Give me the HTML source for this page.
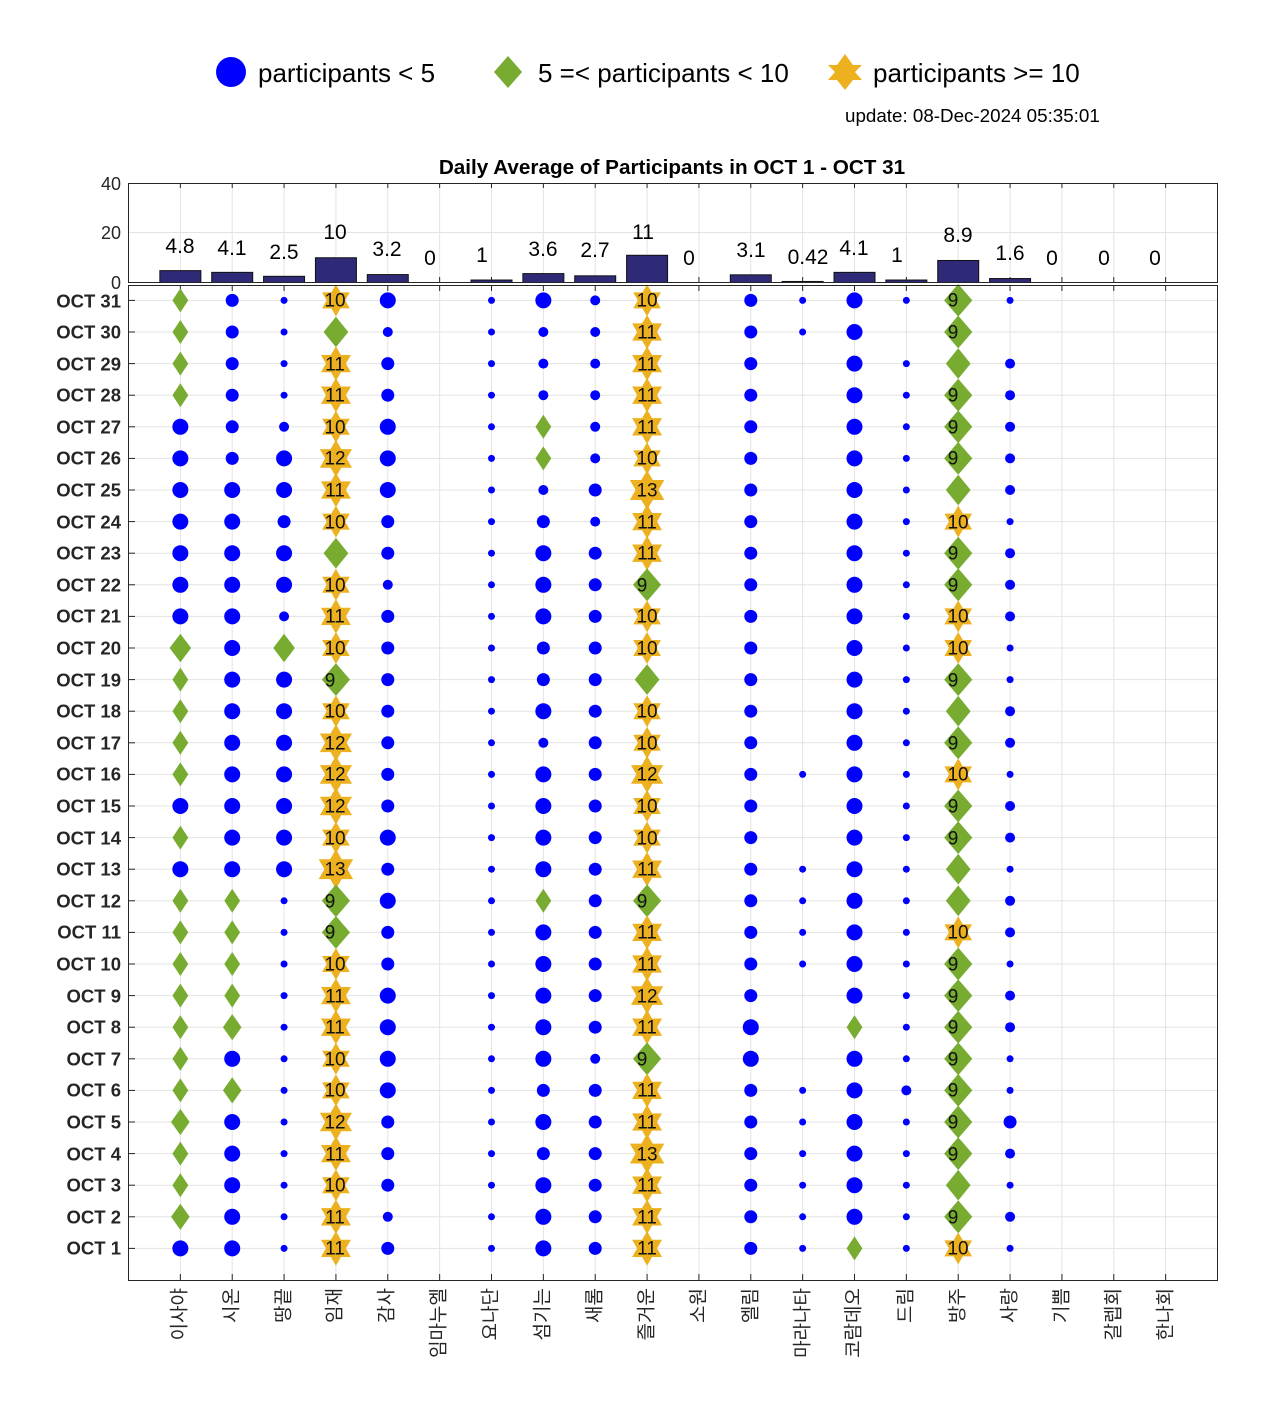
<!DOCTYPE html>
<html><head><meta charset="utf-8"><style>
html,body{margin:0;padding:0;background:#fff;}
svg{display:block;font-family:"Liberation Sans","Noto Sans CJK KR",sans-serif;}
</style></head><body>
<svg id="s" width="1280" height="1422" viewBox="0 0 1280 1422" xmlns="http://www.w3.org/2000/svg">
<rect width="1280" height="1422" fill="#fff"/>
<!-- legend -->
<circle cx="231" cy="72" r="15" fill="#0000ff"/>
<text x="258" y="82" font-size="26" fill="#000">participants &lt; 5</text>
<polygon points="508,56 522,72 508,88 494,72" fill="#77ac30"/>
<text x="538" y="82" font-size="26" fill="#000">5 =&lt; participants &lt; 10</text>
<path d="M845,54 L853,65 L862,65 L855,72 L862,80 L853,80 L845,90 L837,80 L828,80 L835,72 L828,65 L837,65 Z" fill="#edb120"/>
<text x="873" y="82" font-size="26" fill="#000">participants &gt;= 10</text>
<text x="845" y="122" font-size="18.8" fill="#000">update: 08-Dec-2024 05:35:01</text>
<text x="672" y="174" font-size="20.7" font-weight="bold" text-anchor="middle" fill="#000">Daily Average of Participants in OCT 1 - OCT 31</text>
<g id="grid"></g>
<g id="bars"></g>
<g id="m"></g>
<!-- axes frames -->
<rect x="128.5" y="183.5" width="1089" height="99" fill="none" stroke="#262626" stroke-width="1"/>
<rect x="128.5" y="285.5" width="1089" height="995" fill="none" stroke="#262626" stroke-width="1"/>
<g font-size="18" fill="#262626" text-anchor="end">
<text x="121" y="190">40</text><text x="121" y="239">20</text><text x="121" y="289">0</text>
</g>
<!-- bar labels -->
<g font-size="21" fill="#000" text-anchor="middle">
<text x="180" y="253">4.8</text><text x="232" y="255">4.1</text><text x="284" y="259">2.5</text><text x="335" y="239">10</text><text x="387" y="256">3.2</text><text x="430" y="265">0</text><text x="482" y="262">1</text><text x="543" y="256">3.6</text><text x="595" y="257">2.7</text><text x="643" y="239">11</text><text x="689" y="265">0</text><text x="751" y="257">3.1</text><text x="808" y="264">0.42</text><text x="854" y="255">4.1</text><text x="897" y="262">1</text><text x="958" y="242">8.9</text><text x="1010" y="260">1.6</text><text x="1052" y="265">0</text><text x="1104" y="265">0</text><text x="1155" y="265">0</text>
</g>
<!-- y labels -->
<g font-size="18.5" font-weight="bold" fill="#262626" text-anchor="end" dominant-baseline="central">
<text x="121" y="301">OCT 31</text><text x="121" y="332">OCT 30</text><text x="121" y="364">OCT 29</text><text x="121" y="395">OCT 28</text><text x="121" y="427">OCT 27</text><text x="121" y="458">OCT 26</text><text x="121" y="490">OCT 25</text><text x="121" y="522">OCT 24</text><text x="121" y="553">OCT 23</text><text x="121" y="585">OCT 22</text><text x="121" y="616">OCT 21</text><text x="121" y="648">OCT 20</text><text x="121" y="680">OCT 19</text><text x="121" y="711">OCT 18</text><text x="121" y="743">OCT 17</text><text x="121" y="774">OCT 16</text><text x="121" y="806">OCT 15</text><text x="121" y="838">OCT 14</text><text x="121" y="869">OCT 13</text><text x="121" y="901">OCT 12</text><text x="121" y="932">OCT 11</text><text x="121" y="964">OCT 10</text><text x="121" y="996">OCT 9</text><text x="121" y="1027">OCT 8</text><text x="121" y="1059">OCT 7</text><text x="121" y="1090">OCT 6</text><text x="121" y="1122">OCT 5</text><text x="121" y="1154">OCT 4</text><text x="121" y="1185">OCT 3</text><text x="121" y="1217">OCT 2</text><text x="121" y="1248">OCT 1</text>
</g>
<!-- x labels -->
<g font-size="19" fill="#262626" text-anchor="end" dominant-baseline="central">
<text transform="translate(180,1288) rotate(-90)">이사야</text>
<text transform="translate(232,1288) rotate(-90)">시온</text>
<text transform="translate(284,1288) rotate(-90)">땅끝</text>
<text transform="translate(335,1288) rotate(-90)">임재</text>
<text transform="translate(387,1288) rotate(-90)">감사</text>
<text transform="translate(439,1288) rotate(-90)">임마누엘</text>
<text transform="translate(491,1288) rotate(-90)">요나단</text>
<text transform="translate(543,1288) rotate(-90)">섬기는</text>
<text transform="translate(595,1288) rotate(-90)">새롬</text>
<text transform="translate(647,1288) rotate(-90)">즐거운</text>
<text transform="translate(699,1288) rotate(-90)">소원</text>
<text transform="translate(751,1288) rotate(-90)">엘림</text>
<text transform="translate(803,1288) rotate(-90)">마라나타</text>
<text transform="translate(854,1288) rotate(-90)">코람데오</text>
<text transform="translate(906,1288) rotate(-90)">드림</text>
<text transform="translate(958,1288) rotate(-90)">방주</text>
<text transform="translate(1010,1288) rotate(-90)">사랑</text>
<text transform="translate(1062,1288) rotate(-90)">기쁨</text>
<text transform="translate(1114,1288) rotate(-90)">갈렙회</text>
<text transform="translate(1166,1288) rotate(-90)">한나회</text>
</g>
<!-- marker numbers -->
<g font-size="19" fill="#111" text-anchor="middle" dominant-baseline="central">
<g transform="translate(335,1)">
<text y="300">10</text><text y="364">11</text><text y="395">11</text><text y="427">10</text><text y="458">12</text><text y="490">11</text><text y="522">10</text><text y="585">10</text><text y="616">11</text><text y="648">10</text><text x="-5" y="680">9</text><text y="711">10</text><text y="743">12</text><text y="774">12</text><text y="806">12</text><text y="838">10</text><text y="869">13</text><text x="-5" y="901">9</text><text x="-5" y="932">9</text><text y="964">10</text><text y="996">11</text><text y="1027">11</text><text y="1059">10</text><text y="1090">10</text><text y="1122">12</text><text y="1154">11</text><text y="1185">10</text><text y="1217">11</text><text y="1248">11</text>
</g>
<g transform="translate(647,1)">
<text y="300">10</text><text y="332">11</text><text y="364">11</text><text y="395">11</text><text y="427">11</text><text y="458">10</text><text y="490">13</text><text y="522">11</text><text y="553">11</text><text x="-5" y="585">9</text><text y="616">10</text><text y="648">10</text><text y="711">10</text><text y="743">10</text><text y="774">12</text><text y="806">10</text><text y="838">10</text><text y="869">11</text><text x="-5" y="901">9</text><text y="932">11</text><text y="964">11</text><text y="996">12</text><text y="1027">11</text><text x="-5" y="1059">9</text><text y="1090">11</text><text y="1122">11</text><text y="1154">13</text><text y="1185">11</text><text y="1217">11</text><text y="1248">11</text>
</g>
<g transform="translate(958,1)">
<text x="-5" y="300">9</text><text x="-5" y="332">9</text><text x="-5" y="395">9</text><text x="-5" y="427">9</text><text x="-5" y="458">9</text><text y="522">10</text><text x="-5" y="553">9</text><text x="-5" y="585">9</text><text y="616">10</text><text y="648">10</text><text x="-5" y="680">9</text><text x="-5" y="743">9</text><text y="774">10</text><text x="-5" y="806">9</text><text x="-5" y="838">9</text><text y="932">10</text><text x="-5" y="964">9</text><text x="-5" y="996">9</text><text x="-5" y="1027">9</text><text x="-5" y="1059">9</text><text x="-5" y="1090">9</text><text x="-5" y="1122">9</text><text x="-5" y="1154">9</text><text x="-5" y="1217">9</text><text y="1248">10</text>
</g>
</g>
</svg>
<script>
(function(){
var NS="http://www.w3.org/2000/svg";
function el(p,t,a){var e=document.createElementNS(NS,t);for(var k in a)e.setAttribute(k,a[k]);p.appendChild(e);return e;}
var g=document.getElementById('grid'),b=document.getElementById('bars'),m=document.getElementById('m');
var W=1089/21;function cx(i){return 128.5+W*i;}function cy(d){return 1280-31.6*d;}
for(var i=1;i<=20;i++){var x=cx(i);
 el(g,'line',{x1:x,y1:285,x2:x,y2:1280,stroke:'#e3e3e3','stroke-width':1});
 el(g,'line',{x1:x,y1:183,x2:x,y2:282,stroke:'#e3e3e3','stroke-width':1});
 el(g,'line',{x1:x,y1:285,x2:x,y2:291,stroke:'#262626','stroke-width':1});
 el(g,'line',{x1:x,y1:1280,x2:x,y2:1274,stroke:'#262626','stroke-width':1});
 el(g,'line',{x1:x,y1:282,x2:x,y2:277,stroke:'#262626','stroke-width':1});
 el(g,'line',{x1:x,y1:183,x2:x,y2:188,stroke:'#262626','stroke-width':1});
}
for(var d=1;d<=31;d++){var y=cy(d);
 el(g,'line',{x1:128,y1:y,x2:1217,y2:y,stroke:'#e3e3e3','stroke-width':1});
 el(g,'line',{x1:128,y1:y,x2:135,y2:y,stroke:'#262626','stroke-width':1});
}
el(g,'line',{x1:128,y1:232.5,x2:1217,y2:232.5,stroke:'#e3e3e3','stroke-width':1});
var bv=[4.8,4.1,2.5,10,3.2,0,1,3.6,2.7,11,0,3.1,0.42,4.1,1,8.9,1.6,0,0,0];
for(var i=0;i<20;i++){var h=bv[i]*2.475;if(h>0)el(b,'rect',{x:cx(i+1)-20.5,y:282.5-h,width:41,height:h,fill:'#2e2a78',stroke:'#111','stroke-width':1});}
var D=[
"5555444444475555454555555565564",
"3333334444444444444555564644444",
"1111244344274444444111111111111",
"a8bbacba8aba9acccad99abbaacbabb",
"4233444332333333343433444433323",
"0000000000000000000000000000000",
"1111111111111111111111111111111",
"4222552344433424444544444343444",
"2222223233333333333333332333333",
"abbbbadbb9aa8aacaab9bbcb9bbdbbb",
"0000000000000000000000000000000",
"3333333333333333333333344333333",
"1100000000000001001111000111111",
"4444444444444444444444454444445",
"1011111111111111111111111211111",
"9989998a99aa989a9988a999999989a",
"1022222122211221221221221132121",
"0000000000000000000000000000000",
"0000000000000000000000000000000",
"0000000000000000000000000000000"];
for(var c=0;c<20;c++){var s=D[c];for(var k=0;k<31;k++){var v=parseInt(s[k],16);if(!v)continue;
 var x=cx(c+1),y=cy(31-k);
 if(v<5){el(m,'circle',{cx:x,cy:y,r:(3*v+4)/2,fill:'#0000ff'});}
 else if(v<10){var h=(2.2*v+13)/2,w=h*(0.66+(v-5)*0.05);el(m,'polygon',{points:x+','+(y-h)+' '+(x+w)+','+y+' '+x+','+(y+h)+' '+(x-w)+','+y,fill:'#77ac30'});}
 else{var r=(2.6*v+6)/2,q=r*0.866,p='';
  p='M'+x+','+(y-r)+'L'+(x+q/3)+','+(y-r/2)+'L'+(x+q)+','+(y-r/2)+'L'+(x+2*q/3)+','+y+'L'+(x+q)+','+(y+r/2)+'L'+(x+q/3)+','+(y+r/2)+'L'+x+','+(y+r)+'L'+(x-q/3)+','+(y+r/2)+'L'+(x-q)+','+(y+r/2)+'L'+(x-2*q/3)+','+y+'L'+(x-q)+','+(y-r/2)+'L'+(x-q/3)+','+(y-r/2)+'Z';
  el(m,'path',{d:p,fill:'#edb120'});}
}}
})();
</script>
</body></html>
